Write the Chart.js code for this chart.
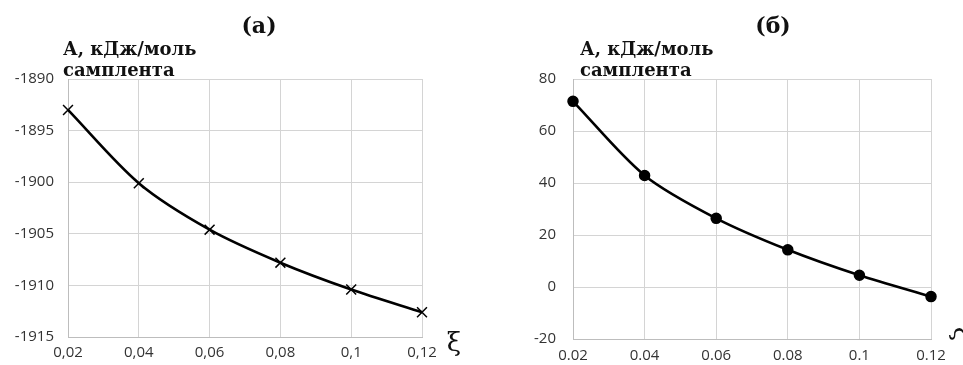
<!DOCTYPE html>
<html>
<head>
<meta charset="utf-8">
<script src="https://cdn.jsdelivr.net/npm/chart.js@4"></script>
<style>
  body { margin: 0; background: #fff; }
  .wrap { position: relative; width: 963px; height: 365px; }
  #chartA { position: absolute; left: 0; top: 0; }
  #chartB { position: absolute; left: 480px; top: 0; }
</style>
</head>
<body>
<div class="wrap">
  <canvas id="chartA" width="480" height="365"></canvas>
  <canvas id="chartB" width="483" height="365"></canvas>
</div>
<script>
// data
const xi = [0.02, 0.04, 0.06, 0.08, 0.1, 0.12];
const seriesA = [-1893.0, -1900.1, -1904.6, -1907.8, -1910.4, -1912.6];
const seriesB = [71.4, 42.9, 26.4, 14.3, 4.5, -3.7];
const yTitle = ["А, кДж/моль", "самплента"];

// titles and axis labels drawn on the canvas
const labelsPlugin = {
  id: "labels",
  afterDraw(chart, args, opts) {
    const ctx = chart.ctx;
    ctx.save();
    ctx.fillStyle = "#111";
    ctx.textBaseline = "alphabetic";
    ctx.font = "bold 22px 'DejaVu Serif', serif";
    ctx.textAlign = "center";
    ctx.fillText(opts.title, opts.titleX, 33);
    ctx.textAlign = "left";
    ctx.font = "bold 18px 'DejaVu Serif', serif";
    ctx.fillText(yTitle[0], opts.yTitleX, 55);
    ctx.fillText(yTitle[1], opts.yTitleX, 76);
    ctx.font = "26px 'DejaVu Serif', serif";
    if (opts.xiRot) {
      ctx.translate(opts.xiX, opts.xiY);
      ctx.rotate(Math.PI / 2);
      ctx.textAlign = "center";
      ctx.fillText("ξ", 0, 0);
    } else {
      ctx.textAlign = "center";
      ctx.fillText("ξ", opts.xiX, opts.xiY);
    }
    ctx.restore();
  }
};

function makeChart(id, data, cfg) {
  return new Chart(document.getElementById(id), {
    type: "line",
    data: {
      datasets: [{
        data: xi.map((x, i) => ({ x: x, y: data[i] })),
        borderColor: "#000",
        backgroundColor: "#000",
        borderWidth: 2.6,
        tension: 0.3,
        clip: false,
        pointStyle: cfg.pointStyle,
        pointRadius: cfg.pointRadius,
        pointBorderWidth: 1.5,
        pointBorderColor: "#000",
        pointBackgroundColor: "#000"
      }]
    },
    options: {
      responsive: false,
      animation: false,
      layout: { padding: { left: 0, top: 79, right: cfg.right, bottom: 0 } },
      plugins: {
        legend: { display: false },
        tooltip: { enabled: false },
        labels: cfg.labels
      },
      scales: {
        x: {
          type: "linear",
          min: 0.02,
          max: 0.12,
          ticks: {
            stepSize: 0.02,
            color: "#333",
            font: { family: "'Open Sans', sans-serif", size: 15 },
            padding: cfg.xPad,
            callback: (v) => {
              let s = String(parseFloat(v.toFixed(2)));
              return cfg.comma ? s.replace(".", ",") : s;
            }
          },
          grid: { color: "#d4d4d4", lineWidth: 1, drawTicks: false },
          border: { color: "#bdbdbd" },
          afterFit: (s) => { s.height = 365 - cfg.bottom; }
        },
        y: {
          min: cfg.ymin,
          max: cfg.ymax,
          ticks: {
            stepSize: cfg.step,
            color: "#333",
            font: { family: "'Open Sans', sans-serif", size: 15 },
            padding: cfg.tickPad,
            callback: (v) => String(v)
          },
          grid: { color: "#d4d4d4", lineWidth: 1, drawTicks: false },
          border: { color: "#bdbdbd" },
          afterFit: (s) => { s.width = cfg.left; }
        }
      }
    },
    plugins: [labelsPlugin]
  });
}

makeChart("chartA", seriesA, {
  pointStyle: "crossRot", pointRadius: 7, right: 58, left: 68, bottom: 337,
  ymin: -1915, ymax: -1890, step: 5, tickPad: 14, comma: true, xPad: 7,
  labels: { title: "(а)", titleX: 259, yTitleX: 63, xiX: 454, xiY: 351, xiRot: false }
});

makeChart("chartB", seriesB, {
  pointStyle: "circle", pointRadius: 5, right: 32, left: 93, bottom: 342,
  ymin: -20, ymax: 80, step: 20, tickPad: 17, comma: false, xPad: 8,
  labels: { title: "(б)", titleX: 293, yTitleX: 100, xiX: 474, xiY: 334, xiRot: true }
});
</script>
</body>
</html>
